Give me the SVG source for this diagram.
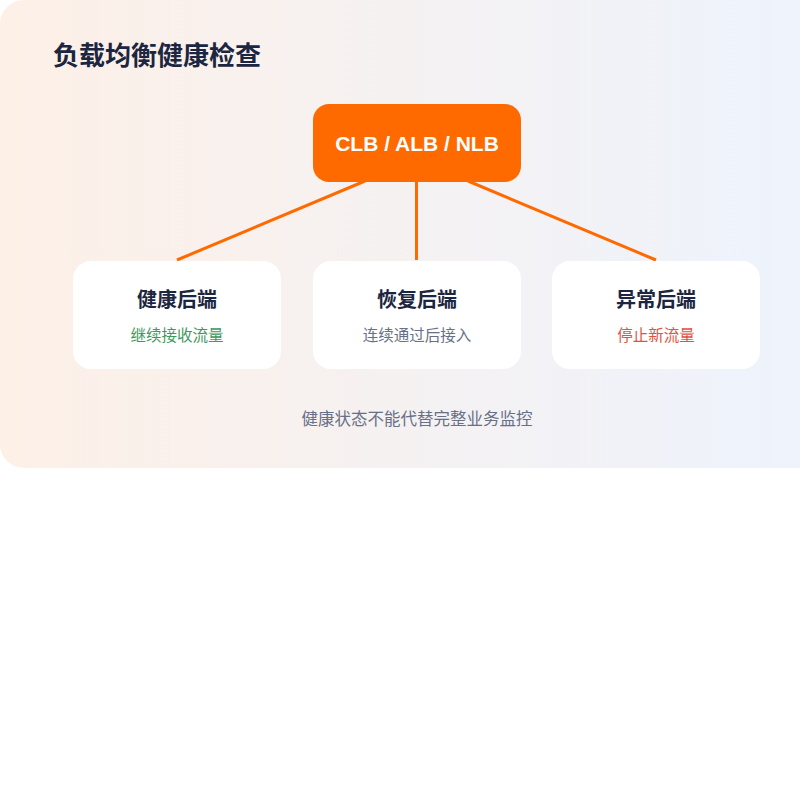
<svg xmlns="http://www.w3.org/2000/svg" width="800" height="800" viewBox="0 0 800 800">
  <defs>
    <linearGradient id="bg" x1="0" y1="0" x2="1" y2="0">
      <stop offset="0" stop-color="#fdf0e7"/>
      <stop offset="1" stop-color="#edf3fd"/>
    </linearGradient>
    <style>
      .card { fill: #ffffff; }
      .title { font-family: "Noto Sans CJK SC", "Liberation Sans", sans-serif; font-weight: 700; fill: #1c2640; }
      .ntitle { font-family: "Noto Sans CJK SC", "Liberation Sans", sans-serif; font-weight: 700; font-size: 20px; fill: #1c2640; text-anchor: middle; }
      .sub { font-family: "Noto Sans CJK SC", "Liberation Sans", sans-serif; font-size: 15.5px; text-anchor: middle; }
      .edge { stroke: #ff6a00; stroke-width: 3; fill: none; }
    </style>
  </defs>
  <rect x="0" y="0" width="800" height="800" fill="#ffffff"/>
  <rect x="0" y="0" width="830" height="468" rx="24" fill="url(#bg)"/>
  <text class="title" x="53" y="65" font-size="26">负载均衡健康检查</text>

  <g id="connectors">
    <line class="edge" x1="365" y1="181" x2="177" y2="260"/>
    <line class="edge" x1="416.5" y1="181" x2="416.5" y2="260"/>
    <line class="edge" x1="468" y1="181" x2="656" y2="260"/>
  </g>

  <g id="lb">
    <rect x="313" y="104" width="208" height="78" rx="16" fill="#ff6a00"/>
    <text x="417" y="150.5" font-family="Liberation Sans, Arial, sans-serif" font-weight="700" font-size="21" fill="#ffffff" text-anchor="middle">CLB / ALB / NLB</text>
  </g>

  <g id="healthy">
    <rect class="card" x="73" y="261" width="208" height="108" rx="18"/>
    <text class="ntitle" x="177" y="307">健康后端</text>
    <text class="sub" x="177" y="341" fill="#3d9a5b">继续接收流量</text>
  </g>

  <g id="recovering">
    <rect class="card" x="313" y="261" width="208" height="108" rx="18"/>
    <text class="ntitle" x="417" y="307">恢复后端</text>
    <text class="sub" x="417" y="341" fill="#687088">连续通过后接入</text>
  </g>

  <g id="abnormal">
    <rect class="card" x="552" y="261" width="208" height="108" rx="18"/>
    <text class="ntitle" x="656" y="307">异常后端</text>
    <text class="sub" x="656" y="341" fill="#e0533f">停止新流量</text>
  </g>

  <text x="417" y="425" font-family="Noto Sans CJK SC, Liberation Sans, sans-serif" font-size="16.5" fill="#687088" text-anchor="middle">健康状态不能代替完整业务监控</text>
</svg>
